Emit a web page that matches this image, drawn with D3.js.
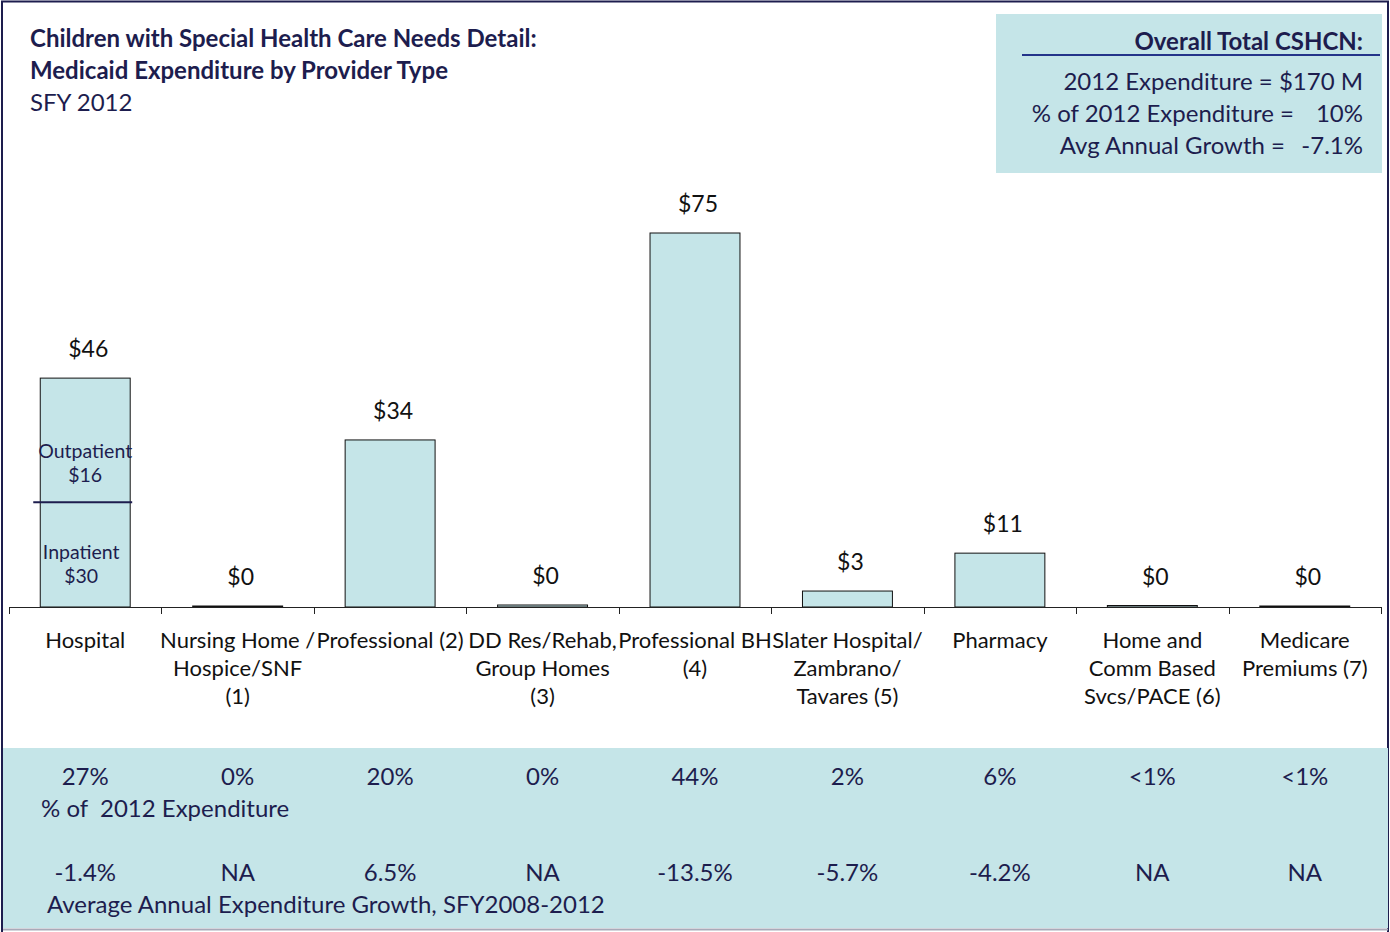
<!DOCTYPE html>
<html>
<head>
<meta charset="utf-8">
<script src="https://cdn.jsdelivr.net/npm/d3@7"></script>
<style>
  body { margin: 0; background: #fff; }
  svg { display: block; font-family: Lato, "Open Sans", sans-serif; }
</style>
</head>
<body>
<div id="chart"></div>
<script>
// Page size and colours.
const WIDTH = 1390;
const HEIGHT = 932;
const NAVY = "#1d1d4e";
const TEAL = "#c5e5e8";

// Provider types (label lines) and 2012 expenditure, $ millions.
const categories = [
  ["Hospital"],
  ["Nursing Home /", "Hospice/SNF", "(1)"],
  ["Professional (2)"],
  ["DD Res/Rehab,", "Group Homes", "(3)"],
  ["Professional BH", "(4)"],
  ["Slater Hospital/", "Zambrano/", "Tavares (5)"],
  ["Pharmacy"],
  ["Home and", "Comm Based", "Svcs/PACE (6)"],
  ["Medicare", "Premiums (7)"],
];
const expenditure = [45.9, 0.2, 33.5, 0.4, 75, 3.2, 10.8, 0.3, 0.2];
const shareOf2012 = ["27%", "0%", "20%", "0%", "44%", "2%", "6%", "<1%", "<1%"];
const avgGrowth = ["-1.4%", "NA", "6.5%", "NA", "-13.5%", "-5.7%", "-4.2%", "NA", "NA"];

// Hospital split: outpatient / inpatient, and where the divider is drawn.
const hospitalParts = [["Outpatient", "$16"], ["Inpatient", "$30"]];
const hospitalDivider = 21;

// Overall total box.
const totalTitle = "Overall Total CSHCN:";
const totalLines = [
  ["2012 Expenditure = $170 M", ""],
  ["% of 2012 Expenditure =", "10%"],
  ["Avg Annual Growth =", "-7.1%"],
];

const svg = d3
  .select("#chart")
  .append("svg")
  .attr("width", WIDTH)
  .attr("height", HEIGHT);

// Frame: navy on left/top/right, grey at the bottom.
svg.append("rect").attr("x", 0).attr("y", 0).attr("width", WIDTH).attr("height", HEIGHT).style("fill", "#fff");
svg.append("path")
  .attr("d", "M2,932 V1.5 H1388 V932")
  .style("fill", "none").style("stroke", NAVY).style("stroke-width", 2);

// Bottom table band.
svg.append("rect")
  .attr("x", 3).attr("y", 748).attr("width", 1385).attr("height", 180)
  .style("fill", TEAL);
svg.append("line")
  .attr("x1", 3).attr("x2", 1388).attr("y1", 929.5).attr("y2", 929.5)
  .style("stroke", "#a9a9b8").style("stroke-width", 2);

// Title.
const title = svg.append("g").style("fill", NAVY).style("font-size", "24px");
title.append("text").attr("x", 30).attr("y", 47).style("font-weight", "bold")
  .text("Children with Special Health Care Needs Detail:");
title.append("text").attr("x", 30).attr("y", 79).style("font-weight", "bold")
  .text("Medicaid Expenditure by Provider Type");
title.append("text").attr("x", 30).attr("y", 111).text("SFY 2012");

// Overall total box.
const box = svg.append("g").style("fill", NAVY);
box.append("rect")
  .attr("x", 996).attr("y", 14).attr("width", 386).attr("height", 159)
  .style("fill", TEAL);
box.append("text")
  .attr("x", 1363).attr("y", 50).attr("text-anchor", "end")
  .style("font-size", "24px").style("font-weight", "bold")
  .text(totalTitle);
box.append("line")
  .attr("x1", 1022).attr("x2", 1380).attr("y1", 55).attr("y2", 55)
  .style("stroke", "#24348a").style("stroke-width", 2);
totalLines.forEach((d, i) => {
  const yy = 90 + i * 32;
  box.append("text")
    .attr("x", d[1] ? (i === 1 ? 1294 : 1285) : 1363)
    .attr("y", yy).attr("text-anchor", "end")
    .style("font-size", "24px").text(d[0]);
  if (d[1]) {
    box.append("text")
      .attr("x", 1363).attr("y", yy).attr("text-anchor", "end")
      .style("font-size", "24px").text(d[1]);
  }
});

// Scales.
const idx = d3.range(categories.length);
const x = d3.scaleBand().domain(idx).range([9, 1381]).paddingInner(0.41).paddingOuter(0.205);
const y = d3.scaleLinear().domain([0, 75]).range([607, 233]);
const step = x.step();

// Bars.
svg.append("g")
  .selectAll("rect")
  .data(idx)
  .join("rect")
  .attr("x", (i) => x(i))
  .attr("y", (i) => y(expenditure[i]))
  .attr("width", x.bandwidth())
  .attr("height", (i) => y(0) - y(expenditure[i]))
  .style("fill", TEAL)
  .style("stroke", "#111")
  .style("stroke-width", 1);

// Value labels.
svg.append("g")
  .selectAll("text")
  .data(idx)
  .join("text")
  .attr("x", (i) => x(i) + x.bandwidth() / 2 + 3)
  .attr("y", (i) => y(expenditure[i]) - 21)
  .attr("text-anchor", "middle")
  .style("font-size", "23px")
  .style("fill", "#111")
  .text((i) => "$" + Math.round(expenditure[i]));

// Hospital split annotation.
const hx = x(0) + x.bandwidth() / 2;
svg.append("line")
  .attr("x1", x(0) - 7).attr("x2", x(0) + x.bandwidth() + 2)
  .attr("y1", y(hospitalDivider)).attr("y2", y(hospitalDivider))
  .style("stroke", NAVY).style("stroke-width", 2);
hospitalParts.forEach((p, k) => {
  const top = k === 0 ? y(hospitalDivider) - 44 : y(hospitalDivider) + 57;
  p.forEach((s, j) => {
    svg.append("text")
      .attr("x", hx - (k === 1 ? 4 : 0)).attr("y", top + j * 24)
      .attr("text-anchor", "middle")
      .style("font-size", "19.5px").style("fill", NAVY)
      .text(s);
  });
});

// Axis: baseline with ticks at the band boundaries.
const axis = svg.append("g").style("stroke", "#222").style("stroke-width", 1);
axis.append("line")
  .attr("x1", x.range()[0]).attr("x2", x.range()[1])
  .attr("y1", y(0) + 0.5).attr("y2", y(0) + 0.5);
axis.selectAll("line.tick")
  .data(d3.range(categories.length + 1))
  .join("line")
  .attr("class", "tick")
  .attr("x1", (i) => Math.round(x.range()[0] + i * step) + 0.5)
  .attr("x2", (i) => Math.round(x.range()[0] + i * step) + 0.5)
  .attr("y1", y(0))
  .attr("y2", y(0) + 7);

// Category labels.
const cat = svg.append("g")
  .selectAll("text")
  .data(idx)
  .join("text")
  .attr("text-anchor", "middle")
  .style("font-size", "22px")
  .style("fill", "#111");
cat.each(function (i) {
  d3.select(this)
    .selectAll("tspan")
    .data(categories[i])
    .join("tspan")
    .attr("x", x(i) + x.bandwidth() / 2)
    .attr("y", (d, j) => 648 + j * 28)
    .text((d) => d);
});

// Table rows.
const table = svg.append("g").style("fill", NAVY).style("font-size", "24px");
table.selectAll("text.share")
  .data(idx)
  .join("text")
  .attr("class", "share")
  .attr("x", (i) => x(i) + x.bandwidth() / 2)
  .attr("y", 785)
  .attr("text-anchor", "middle")
  .text((i) => shareOf2012[i]);
table.append("text")
  .attr("x", 41).attr("y", 817)
  .attr("xml:space", "preserve")
  .text("% of  2012 Expenditure");
table.selectAll("text.growth")
  .data(idx)
  .join("text")
  .attr("class", "growth")
  .attr("x", (i) => x(i) + x.bandwidth() / 2)
  .attr("y", 881)
  .attr("text-anchor", "middle")
  .text((i) => avgGrowth[i]);
table.append("text")
  .attr("x", 47).attr("y", 913)
  .text("Average Annual Expenditure Growth, SFY2008-2012");
</script>
</body>
</html>
